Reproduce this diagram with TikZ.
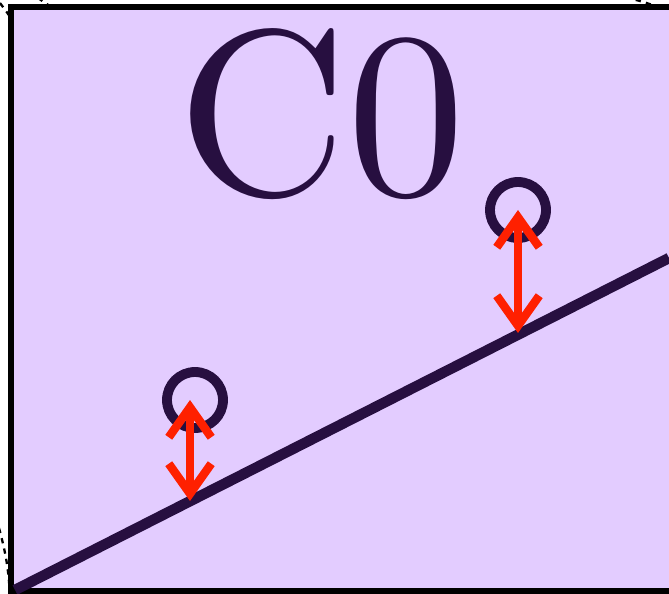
\documentclass[tikz,border=0pt]{standalone}
\usepackage{tikz}
\usetikzlibrary{positioning,arrows.meta}

\definecolor{panelfill}{HTML}{E3CCFF}
\definecolor{ink}{HTML}{270F40}
\definecolor{gap}{HTML}{FF2000}

\font\bigC=cmr10 at 134pt

\begin{document}
\begin{tikzpicture}[x={(0.02cm,0)},y={(0,-0.02cm)},
			>={Straight Barb[length=0.6cm,width=0.85cm]},
			point/.style={
				circle,
				draw=ink,
				line width=5.6pt,
				minimum size=1.12cm,
				inner sep=0pt
			},
			residual/.style={
				<->,
				draw=gap,
				line width=4.8pt
			},
			outline/.style={
				line width=1.3pt,
				dash pattern=on 3pt off 3pt
			}]
			
			\useasboundingbox (0,0) rectangle (669,594);
			\clip (0,0) rectangle (669,594);
			
			% dotted pieces of the shape behind the panel
			\draw[outline] (0,3) -- (14,22);
			\draw[outline] (38,-2) -- (54,9);
			\draw[outline] (615,-4) to[bend left=8] (669,12);
			\draw[outline] (-1,528) to[bend left=6] (10,596);
			
			\draw[fill=panelfill,line width=2.9pt] (11,7) rectangle (720,591);
			
			\node (label)[text=ink,font=\bigC,inner sep=0pt,anchor=base west] at (177,195){C0};
			
			\coordinate (start) at (15,590);
			
			\coordinate (end) at (669,258);
			
			\draw[ink,line width=6pt] (start)--(end);
			
			\node (p1)[point] at (195,400){};
			
			\node (p2)[point] at (518,210){};
			
			\coordinate (f1) at (190,501);
			
			\coordinate (f2) at (518,333);
			
			\draw[residual] (p1.center -| f1)--(f1);
			
			\draw[residual] (p2.center)--(f2);
			
		\end{tikzpicture}
\end{document}
